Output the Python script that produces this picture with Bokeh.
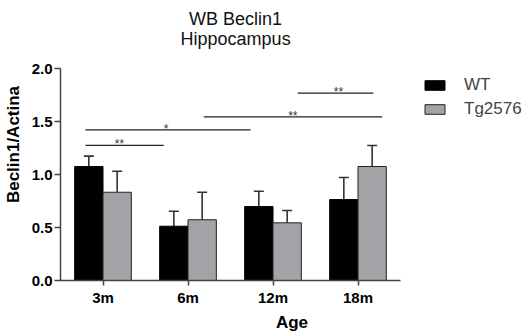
from bokeh.plotting import figure
from bokeh.models import (Range1d, FixedTicker, NumeralTickFormatter, Whisker, TeeHead,
                          ColumnDataSource, Legend, LegendItem, Label)
from bokeh.embed import file_html
from bokeh.resources import INLINE
from bokeh.core.properties import value

# ---- data ----
ages = ["3m", "6m", "12m", "18m"]
wt_mean = [1.077, 0.513, 0.699, 0.765]
wt_sem = [0.098, 0.142, 0.145, 0.208]
tg_mean = [0.834, 0.574, 0.545, 1.077]
tg_sem = [0.199, 0.260, 0.116, 0.199]
y_ticks = [0.0, 0.5, 1.0, 1.5, 2.0]

sig_x0 = [0.294, 0.294, 1.686, 2.79]
sig_x1 = [1.215, 2.235, 3.784, 3.682]
sig_y = [1.276, 1.424, 1.547, 1.77]
sig_text = ["**", "*", "**", "**"]
sig_text_x = [0.694, 1.242, 2.733, 3.27]

title_lines = ["WB Beclin1", "Hippocampus"]

# ---- layout ----
FONT = "Liberation Sans"
FW, FH = 463, 272
LEFT, TOP = 55, 8
PX_X, PX_Y = 85.0, 105.83
x_end = FW / PX_X
y_end = FH / PX_Y

p = figure(frame_width=FW, frame_height=FH, output_backend="svg", toolbar_location=None,
           x_range=Range1d(0, x_end), y_range=Range1d(0, y_end),
           min_border_left=LEFT, min_border_bottom=0,
           min_border_top=TOP, min_border_right=0)
p.outline_line_color = None
p.xgrid.visible = False
p.ygrid.visible = False
p.background_fill_color = "white"

n = len(ages)
pos = [i + 0.5 for i in range(n)]
bw = 1.0 / 3.0
src_wt = ColumnDataSource(dict(x=[c - bw / 2 for c in pos], top=wt_mean,
                               upper=[m + s for m, s in zip(wt_mean, wt_sem)]))
src_tg = ColumnDataSource(dict(x=[c + bw / 2 for c in pos], top=tg_mean,
                               upper=[m + s for m, s in zip(tg_mean, tg_sem)]))

ERR = "#333333"
for src in (src_wt, src_tg):
    p.add_layout(Whisker(source=src, base="x", lower="top", upper="upper",
                         dimension="height", line_color=ERR, line_width=1.6,
                         upper_head=TeeHead(size=10, line_color=ERR, line_width=1.6),
                         lower_head=None))

r_wt = p.vbar(x="x", top="top", bottom=0, width=bw, source=src_wt,
              fill_color="black", line_color="black", line_width=1)
r_tg = p.vbar(x="x", top="top", bottom=0, width=bw, source=src_tg,
              fill_color="#A3A3A7", line_color="#222222", line_width=1)

p.segment(x0=sig_x0, y0=sig_y, x1=sig_x1, y1=sig_y, line_color="#222222", line_width=1.3)
p.text(x=sig_text_x, y=sig_y, text=sig_text, text_font=value(FONT),
       text_font_size="12px", text_align="center", text_baseline="alphabetic",
       y_offset=-1, text_color="#333333")

# titles
for txt, yy in zip(title_lines, [2.47, 2.281]):
    p.add_layout(Label(x=2.06, y=yy, text=txt, text_align="center",
                       text_baseline="alphabetic", text_font=FONT,
                       text_font_size="18px", text_color="#111111"))

# axes
AX = "#444444"
for ax in (p.xaxis[0], p.yaxis[0]):
    ax.axis_line_color = AX
    ax.axis_line_width = 1.5
    ax.major_tick_line_color = AX
    ax.major_tick_line_width = 1.5
    ax.minor_tick_line_color = None
    ax.major_tick_in = 0
    ax.major_label_text_font = FONT
    ax.major_label_text_font_style = "bold"
    ax.major_label_text_font_size = "15px"
    ax.major_label_text_color = "black"
    ax.axis_label_text_font = FONT
    ax.axis_label_text_font_style = "bold"
    ax.axis_label_text_font_size = "17px"
    ax.axis_label_text_color = "black"

p.xaxis.bounds = (0, n)
p.xaxis.ticker = FixedTicker(ticks=pos)
p.xaxis.major_label_overrides = {c: a for c, a in zip(pos, ages)}
p.xaxis.major_tick_out = 5
p.xaxis.major_label_standoff = 3
p.xaxis.axis_label = "Age"
p.xaxis.axis_label_standoff = 4

p.yaxis.bounds = (y_ticks[0], y_ticks[-1])
p.yaxis.ticker = FixedTicker(ticks=y_ticks)
p.yaxis.formatter = NumeralTickFormatter(format="0.0")
p.yaxis.major_tick_out = 6
p.yaxis.major_label_standoff = 2
p.yaxis.axis_label = "Beclin1/Actina"
p.yaxis.axis_label_standoff = 6

legend = Legend(items=[LegendItem(label="WT", renderers=[r_wt]),
                       LegendItem(label="Tg2576", renderers=[r_tg])],
                location=(362, 161), padding=0, margin=0,
                border_line_color=None, background_fill_alpha=0,
                glyph_width=25, glyph_height=12, label_standoff=17, spacing=4,
                label_text_font=FONT, label_text_font_size="17px", label_height=20)
p.add_layout(legend)

open("out.html", "w").write(file_html(p, INLINE))
